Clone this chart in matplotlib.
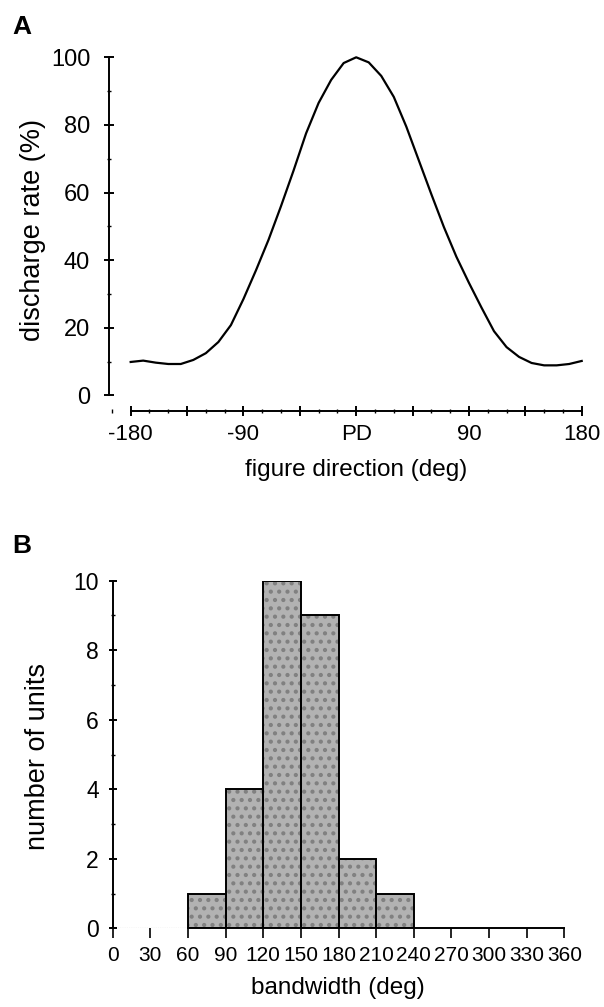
"""Tuning curve (A) and bandwidth histogram (B)"""

import numpy as np
import matplotlib
matplotlib.use("Agg")
import matplotlib.pyplot as plt
from matplotlib.ticker import MultipleLocator, FixedLocator, FixedFormatter

plt.rcParams['font.family'] = ['Liberation Sans', 'DejaVu Sans']
plt.rcParams['hatch.linewidth'] = 1.8

# panel A: population tuning curve, sampled every 10 deg
directions = [-180, -170, -160, -150, -140, -130, -120, -110, -100, -90,
              -80, -70, -60, -50, -40, -30, -20, -10, 0,
              10, 20, 30, 40, 50, 60, 70, 80, 90, 100,
              110, 120, 130, 140, 150, 160, 170, 180]
rate = [9.9, 10.3, 9.7, 9.3, 9.3, 10.5, 12.5, 15.8, 20.8, 28.5,
        37.0, 46.0, 56.0, 66.5, 77.5, 86.5, 93.3, 98.3, 100.0,
        98.5, 94.5, 88.3, 79.5, 69.5, 59.5, 49.8, 41.0, 33.3, 26.0,
        19.0, 14.3, 11.4, 9.6, 8.9, 8.9, 9.3, 10.2]
dir_ticks = [-180, -135, -90, -45, 0, 45, 90, 135, 180]
dir_labels = ['-180', '', '-90', '', 'PD', '', '90', '', '180']

# panel B: histogram of tuning bandwidths
bin_left = [60, 90, 120, 150, 180, 210]
bin_width = 30
n_units = [1, 4, 10, 9, 2, 1]

W, H = 604, 1007
fig = plt.figure(figsize=(W / 100, H / 100), dpi=100)

def px(x, y):
  # pixel position (from top left) -> figure fraction
  return x / W, 1 - y / H

lw = 1.4

# ---------------- panel A ----------------
axA = fig.add_axes([109 / W, 1 - 411 / H, (581.7 - 109) / W, (411 - 57.3) / H])
axA.plot(directions, rate, color='black', lw=1.6, clip_on=False)
axA.set_xlim(-197.3, 180)
axA.set_ylim(-4.6, 100)
for s in ['top', 'right']:
  axA.spines[s].set_visible(False)
axA.spines['left'].set_bounds(0, 100)
axA.spines['bottom'].set_bounds(-180, 180)
axA.spines['left'].set_linewidth(lw)
axA.spines['bottom'].set_linewidth(lw)

axA.xaxis.set_major_locator(FixedLocator(dir_ticks))
axA.xaxis.set_major_formatter(FixedFormatter(dir_labels))
axA.xaxis.set_minor_locator(MultipleLocator(15))
axA.set_yticks([0, 20, 40, 60, 80, 100])
axA.yaxis.set_minor_locator(MultipleLocator(10))
axA.tick_params(axis='both', which='major', direction='inout', length=7, width=lw)
axA.tick_params(axis='both', which='minor', direction='inout', length=3.5, width=1)
axA.tick_params(axis='y', which='major', labelsize=17, pad=10)
axA.tick_params(axis='x', which='major', labelsize=16, pad=6)

fig.text(*px(33, 230), 'discharge rate (%)', fontsize=19.5, rotation=90,
         ha='center', va='center')
fig.text(*px(356, 470), 'figure direction (deg)', fontsize=17.5,
         ha='center', va='center')
fig.text(*px(12, 34), 'A', fontsize=19, fontweight='bold', ha='left', va='baseline')

# ---------------- panel B ----------------
axB = fig.add_axes([112.7 / W, 1 - 928.3 / H, (564.3 - 112.7) / W, (928.3 - 580.7) / H])
axB.bar(bin_left, n_units, width=bin_width, align='edge', color='#b2b2b2',
        edgecolor='#808080', hatch='..', linewidth=0, zorder=2)
axB.bar(bin_left, n_units, width=bin_width, align='edge', fill=False,
        edgecolor='black', linewidth=lw, zorder=3)
axB.plot([0, 60], [0, 0], color='#777777', lw=0.8, ls=(0, (1, 1)), zorder=1)
axB.set_xlim(0, 360)
axB.set_ylim(0, 10)
for s in ['top', 'right']:
  axB.spines[s].set_visible(False)
axB.spines['bottom'].set_bounds(60, 360)
axB.spines['left'].set_linewidth(lw)
axB.spines['bottom'].set_linewidth(lw)

axB.xaxis.set_major_locator(MultipleLocator(30))
axB.yaxis.set_major_locator(MultipleLocator(2))
axB.yaxis.set_minor_locator(MultipleLocator(1))
axB.tick_params(axis='x', which='major', direction='out', length=7, width=1.2,
                labelsize=15, pad=6)
axB.tick_params(axis='y', which='major', direction='inout', length=6, width=lw,
                labelsize=16.5, pad=7)
axB.tick_params(axis='y', which='minor', direction='inout', length=3, width=1)

fig.text(*px(38, 757), 'number of units', fontsize=19.5, rotation=90,
         ha='center', va='center')
fig.text(*px(338, 988), 'bandwidth (deg)', fontsize=17.5, ha='center', va='center')
fig.text(*px(12, 553), 'B', fontsize=19, fontweight='bold', ha='left', va='baseline')

fig.savefig('out.png', dpi=100)
